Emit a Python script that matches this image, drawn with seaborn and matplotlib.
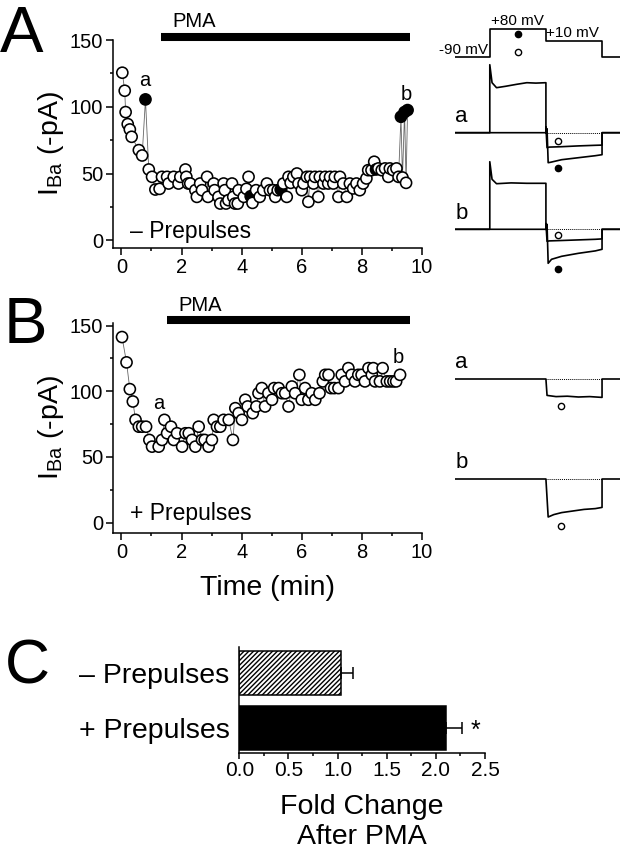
#!/usr/bin/env python3
"""PMA time courses with and without prepulses, example traces and fold change."""

import matplotlib.pyplot as plt
import pandas as pd
import seaborn as sns
from matplotlib.ticker import MultipleLocator

W, H = 624, 852

# ---- panel A: IBa time course, no prepulses (min, -pA) ----
A_TIME = [0.03, 0.11, 0.14, 0.21, 0.28, 0.34, 0.58, 0.69, 0.80, 0.91, 1.02, 1.13,
          1.27, 1.35, 1.52, 1.57, 1.74, 1.90, 1.96, 2.13, 2.16, 2.22, 2.29, 2.46,
          2.51, 2.62, 2.68, 2.85, 2.88, 3.07, 3.10, 3.23, 3.29, 3.40, 3.44, 3.48,
          3.56, 3.68, 3.72, 3.78, 3.87, 3.90, 4.07, 4.16, 4.23, 4.30, 4.36, 4.48,
          4.60, 4.72, 4.84, 4.94, 5.05, 5.12, 5.20, 5.30, 5.39, 5.50, 5.56, 5.63,
          5.72, 5.84, 5.89, 6.00, 6.06, 6.17, 6.22, 6.28, 6.39, 6.44, 6.55, 6.60,
          6.72, 6.78, 6.88, 6.94, 7.05, 7.10, 7.22, 7.27, 7.38, 7.50, 7.60, 7.71,
          7.82, 7.93, 8.04, 8.15, 8.21, 8.32, 8.41, 8.47, 8.55, 8.66, 8.77, 8.88,
          8.93, 9.04, 9.15, 9.22, 9.30, 9.35, 9.42, 9.47, 9.52]
A_CURRENT = [125.5, 112, 96, 87, 83, 77.5, 67.5, 63.5, 105.5, 53, 47.5, 38,
             38.5, 47.5, 47.5, 42.5, 47.5, 42.5, 47.5, 53, 47.5, 42.5, 42.5, 37.5,
             32.5, 42.5, 37.5, 47.5, 32.5, 42.5, 37.5, 32.5, 27.5, 42.5, 37.5, 27.5,
             30, 42.5, 32.5, 27.5, 27.5, 37.5, 32.5, 38.5, 47.5, 33, 28, 37.5,
             32.5, 37.5, 42.5, 37.5, 37.5, 32.5, 37.5, 38, 42.5, 32.5, 47.5, 43,
             47.5, 50, 42.5, 37.5, 42.5, 47.5, 28.8, 47.5, 42.5, 47.5, 32.5, 47.5,
             42.5, 47.5, 42.5, 47.5, 42.5, 47.5, 32.5, 47.5, 42.5, 32.5, 42.5, 38.8,
             42.5, 37.5, 42.5, 46.3, 52.5, 52.5, 58.8, 53, 53.8, 52.5, 53.8, 47.5,
             53.8, 52.5, 53.8, 47.5, 92.5, 47, 96, 43, 97.5]
A_FILLED_AT = [0.80, 4.30, 5.30, 8.47, 9.30, 9.42, 9.52]  # tests after a prepulse

# ---- panel B: IBa time course, with prepulses ----
B_TIME = [0.02, 0.17, 0.28, 0.38, 0.47, 0.58, 0.69, 0.82, 0.93, 1.02, 1.24, 1.35,
          1.43, 1.52, 1.65, 1.74, 1.85, 2.02, 2.13, 2.24, 2.35, 2.46, 2.57, 2.68,
          2.77, 2.90, 3.01, 3.07, 3.18, 3.29, 3.40, 3.57, 3.71, 3.79, 3.90, 4.01,
          4.12, 4.20, 4.37, 4.49, 4.56, 4.67, 4.78, 4.89, 5.01, 5.08, 5.23, 5.34,
          5.45, 5.56, 5.67, 5.78, 5.92, 6.00, 6.11, 6.22, 6.33, 6.45, 6.59, 6.70,
          6.78, 6.89, 6.97, 7.08, 7.22, 7.33, 7.44, 7.55, 7.66, 7.77, 7.88, 7.99,
          8.10, 8.22, 8.33, 8.38, 8.44, 8.60, 8.69, 8.83, 8.94, 9.05, 9.14, 9.27]
B_CURRENT = [141.3, 122, 101.6, 92.2, 78.2, 73, 73, 73, 62.9, 57.8, 57.8, 62.9,
             78.2, 68, 73, 62.9, 68, 57.8, 68, 68, 62.9, 57.8, 73, 62.9,
             62.9, 57.8, 62.9, 78.2, 73, 73, 78.2, 78.2, 62.9, 87.1, 83.3, 78.2,
             93.5, 88.4, 83.3, 88.4, 98.5, 102.4, 88.4, 98.5, 93.5, 102.4, 102.4, 98.5,
             98.5, 88.4, 103.6, 98.5, 112.5, 93.5, 102.4, 93.5, 98.5, 93.5, 98.5, 107.5,
             112.5, 112.5, 102.4, 102.4, 102.4, 112.5, 107.5, 117.6, 112.5, 107.5, 112.5, 112.5,
             107.5, 117.6, 112.5, 117.6, 107.5, 107.5, 117.6, 107.5, 107.5, 107.5, 107.5, 112.5]

PMA_ON_A, PMA_ON_B, PMA_OFF = 1.32, 1.52, 9.6
MARK_A = {"a": (0.77, 120), "b": (9.47, 109)}
MARK_B = {"a": (1.24, 91), "b": (9.21, 126)}

# ---- example traces (ms; mV or pA) ----
PROTO_T = [0, 31, 31, 81, 81, 131, 131, 147]
PROTO_V = [-90, -90, 80, 80, 10, 10, -90, -90]
TEST_ON, TEST_OFF = 81, 131

AA_FILLED_T = [0, 31, 31, 33, 37, 45, 55, 64, 72, 81, 81, 82, 83, 85, 95, 110, 125, 131, 131, 147]
AA_FILLED_I = [0, 0, 340, 250, 225, 232, 242, 250, 248, 250, 0, 20, -150, -148, -135, -125, -115, -110, 0, 0]
AA_OPEN_T = [0, 81, 81, 82, 84, 95, 110, 125, 131, 131, 147]
AA_OPEN_I = [0, 0, 30, -75, -72, -70, -66, -63, -62, 0, 0]

AB_FILLED_T = [0, 31, 31, 33, 37, 50, 64, 81, 81, 82, 83, 86, 95, 110, 125, 131, 131, 147]
AB_FILLED_I = [0, 0, 338, 250, 228, 232, 230, 230, 0, 25, -170, -150, -135, -120, -108, -100, 0, 0]
AB_OPEN_T = [0, 81, 81, 82, 84, 95, 110, 125, 131, 131, 147]
AB_OPEN_I = [0, 0, 30, -60, -58, -56, -53, -50, -48, 0, 0]

BA_T = [0, 81, 82, 90, 100, 110, 120, 131, 131, 147]
BA_I = [0, 0, -82, -88, -86, -90, -88, -92, 0, 0]
BB_T = [0, 81, 83, 88, 95, 105, 115, 125, 131, 131, 147]
BB_I = [0, 0, -190, -178, -168, -160, -152, -148, -142, 0, 0]

# ---- panel C: fold change after PMA ----
C_GROUPS = ["\u2013 Prepulses", "+ Prepulses"]
C_FOLD = [1.03, 2.10]
C_SEM = [0.13, 0.17]


def px_axes(fig, left, top, right, bottom):
    return fig.add_axes([left / W, 1 - bottom / H, (right - left) / W, (bottom - top) / H])


def fig_text(fig, x, y, s, **kw):
    fig.text(x / W, 1 - y / H, s, **kw)


def trace_axes(fig, top, bottom, base_px, base_val, per_px):
    ax = px_axes(fig, 455, top, 620, bottom)
    ax.set_xlim(0, 147)
    ax.set_ylim(base_val - (bottom - base_px) * per_px, base_val + (base_px - top) * per_px)
    ax.axis("off")
    return ax


def draw_trace(ax, t, i):
    sns.lineplot(x=t, y=i, sort=False, estimator=None, color="black", linewidth=1.2, ax=ax)


def time_course(ax, time, current, filled_at, pma_on, marks, note):
    df = pd.DataFrame({"time": time, "current": current})
    df["kind"] = ["filled" if t in filled_at else "open" for t in time]
    sns.lineplot(data=df, x="time", y="current", sort=False, estimator=None,
                 color="0.4", linewidth=0.6, ax=ax, zorder=1)
    sns.scatterplot(data=df, x="time", y="current", hue="kind",
                    palette={"open": "white", "filled": "black"}, edgecolor="black",
                    linewidth=1.15, s=64, legend=False, ax=ax, zorder=3, clip_on=False)
    ax.set_xlim(-0.28, 10)
    ax.xaxis.set_major_locator(MultipleLocator(2))
    ax.xaxis.set_minor_locator(MultipleLocator(1))
    ax.yaxis.set_major_locator(MultipleLocator(50))
    ax.yaxis.set_minor_locator(MultipleLocator(25))
    ax.tick_params(which="major", direction="out", length=5, width=1.1, labelsize=14.5, pad=2)
    ax.tick_params(which="minor", direction="out", length=2.5, width=1.1)
    ax.set_xlabel("")
    ax.set_ylabel("I$_{\\mathregular{Ba}}$ (-pA)", fontsize=20.5)
    ax.yaxis.set_label_coords(-0.152, 0.5)
    for s in ("top", "right"):
        ax.spines[s].set_visible(False)
    ax.spines["left"].set_linewidth(1.1)
    ax.spines["bottom"].set_linewidth(1.1)
    top = ax.get_ylim()[1]
    ax.plot([pma_on, PMA_OFF], [top + 2.5, top + 2.5], color="black", linewidth=5.8,
            solid_capstyle="butt", clip_on=False)
    ax.text(pma_on + 0.36, top + 13.5, "PMA", fontsize=14.5, ha="left", va="center")
    for lab, (x, y) in marks.items():
        ax.text(x, y, lab, fontsize=14.5, ha="center", va="center")
    ax.text(0.3, 6.5, note, fontsize=16.5, ha="left", va="center")


def main():
    sns.set_theme(style="ticks")
    plt.rcParams["font.family"] = ["Liberation Sans", "DejaVu Sans"]
    plt.rcParams["mathtext.fontset"] = "custom"
    plt.rcParams["mathtext.rm"] = "Liberation Sans"
    plt.rcParams["hatch.linewidth"] = 1.0
    for key in ("axes.edgecolor", "xtick.color", "ytick.color", "text.color",
                "axes.labelcolor", "xtick.labelcolor", "ytick.labelcolor"):
        plt.rcParams[key] = "black"

    fig = plt.figure(figsize=(W / 100, H / 100), dpi=100)

    # panel A
    ax_a = px_axes(fig, 113, 40, 422, 248)
    ax_a.set_ylim(-5.8, 150)
    time_course(ax_a, A_TIME, A_CURRENT, A_FILLED_AT, PMA_ON_A, MARK_A, "\u2013 Prepulses")

    # panel B
    ax_b = px_axes(fig, 113, 323, 422, 533)
    ax_b.set_ylim(-8, 152)
    time_course(ax_b, B_TIME, B_CURRENT, [], PMA_ON_B, MARK_B, "+ Prepulses")
    ax_b.set_xlabel("Time (min)", fontsize=20.5)
    ax_b.xaxis.set_label_coords(0.5, -0.2)

    # voltage protocol
    ax_v = trace_axes(fig, 15, 62, 57.3, -90, 6.07)
    draw_trace(ax_v, PROTO_T, PROTO_V)
    ax_v.text(7.6, -46, "-90 mV", fontsize=11, ha="center", va="center")
    ax_v.text(56, 132, "+80 mV", fontsize=11, ha="center", va="center")
    ax_v.text(105, 58, "+10 mV", fontsize=11, ha="center", va="center")
    ax_v.plot(56, 51, "o", ms=4.5, mfc="black", mec="black", clip_on=False)
    ax_v.plot(56, -58, "o", ms=4.5, mfc="white", mec="black", mew=1, clip_on=False)

    # traces for A
    for top, bottom, base, ft, fi, ot, oi, lab in (
        (60, 180, 132.7, AA_FILLED_T, AA_FILLED_I, AA_OPEN_T, AA_OPEN_I, "a"),
        (155, 275, 229.3, AB_FILLED_T, AB_FILLED_I, AB_OPEN_T, AB_OPEN_I, "b"),
    ):
        ax = trace_axes(fig, top, bottom, base, 0, 5)
        draw_trace(ax, ot, oi)
        draw_trace(ax, ft, fi)
        ax.hlines(0, TEST_ON, TEST_OFF, colors="black", linestyles=(0, (1, 1)), linewidth=0.7)
        ax.plot(92, min(oi) + 33, "o", ms=4.5, mfc="white", mec="black", mew=1, clip_on=False)
        ax.plot(92, min(fi) - 27, "o", ms=4.5, mfc="black", mec="black", clip_on=False)
        ax.text(6, 80, lab, fontsize=16, ha="center", va="center")

    # traces for B
    for top, bottom, base, t, i, lab in ((340, 420, 379, BA_T, BA_I, "a"),
                                         (440, 540, 479, BB_T, BB_I, "b")):
        ax = trace_axes(fig, top, bottom, base, 0, 5)
        draw_trace(ax, t, i)
        ax.hlines(0, TEST_ON, TEST_OFF, colors="black", linestyles=(0, (1, 1)), linewidth=0.7)
        ax.plot(94, min(i) - 43, "o", ms=4.5, mfc="white", mec="black", mew=1, clip_on=False)
        ax.text(6, 80, lab, fontsize=16, ha="center", va="center")

    # panel C
    ax_c = px_axes(fig, 239.3, 647, 485, 753)
    df_c = pd.DataFrame({"group": C_GROUPS, "fold": C_FOLD})
    sns.barplot(data=df_c, x="fold", y="group", hue="group", palette=["white", "black"],
                edgecolor="black", linewidth=1.1, width=0.8, errorbar=None, legend=False,
                orient="h", ax=ax_c)
    ax_c.patches[0].set_hatch("///////")
    ax_c.errorbar(C_FOLD, [0, 1], xerr=[[0, 0], C_SEM], fmt="none", ecolor="black",
                  elinewidth=1.1, capsize=4, capthick=1.1)
    ax_c.text(C_FOLD[1] + C_SEM[1] + 0.13, 1.04, "*", fontsize=18, ha="center", va="center")
    ax_c.set_xlim(0, 2.5)
    ax_c.set_ylim(1.45, -0.48)
    ax_c.xaxis.set_major_locator(MultipleLocator(0.5))
    ax_c.xaxis.set_minor_locator(MultipleLocator(0.25))
    ax_c.xaxis.set_major_formatter(plt.FormatStrFormatter("%.1f"))
    ax_c.tick_params(axis="x", which="major", direction="out", length=4, width=1.1,
                     labelsize=15, pad=2)
    ax_c.tick_params(axis="x", which="minor", direction="out", length=2.5, width=1.1)
    ax_c.tick_params(axis="y", length=0, labelsize=20.5, pad=7)
    ax_c.set_ylabel("")
    ax_c.set_xlabel("Fold Change\nAfter PMA", fontsize=20.5, labelpad=10)
    for s in ("top", "right"):
        ax_c.spines[s].set_visible(False)
    ax_c.spines["left"].set_linewidth(1.1)
    ax_c.spines["bottom"].set_linewidth(1.1)

    # panel letters
    fig_text(fig, 22, 52, "A", fontsize=47, ha="center", va="baseline")
    fig_text(fig, 25, 343, "B", fontsize=47, ha="center", va="baseline")
    fig_text(fig, 27, 684, "C", fontsize=45, ha="center", va="baseline")

    fig.savefig("out.png", dpi=100)
    plt.close(fig)


if __name__ == "__main__":
    main()
